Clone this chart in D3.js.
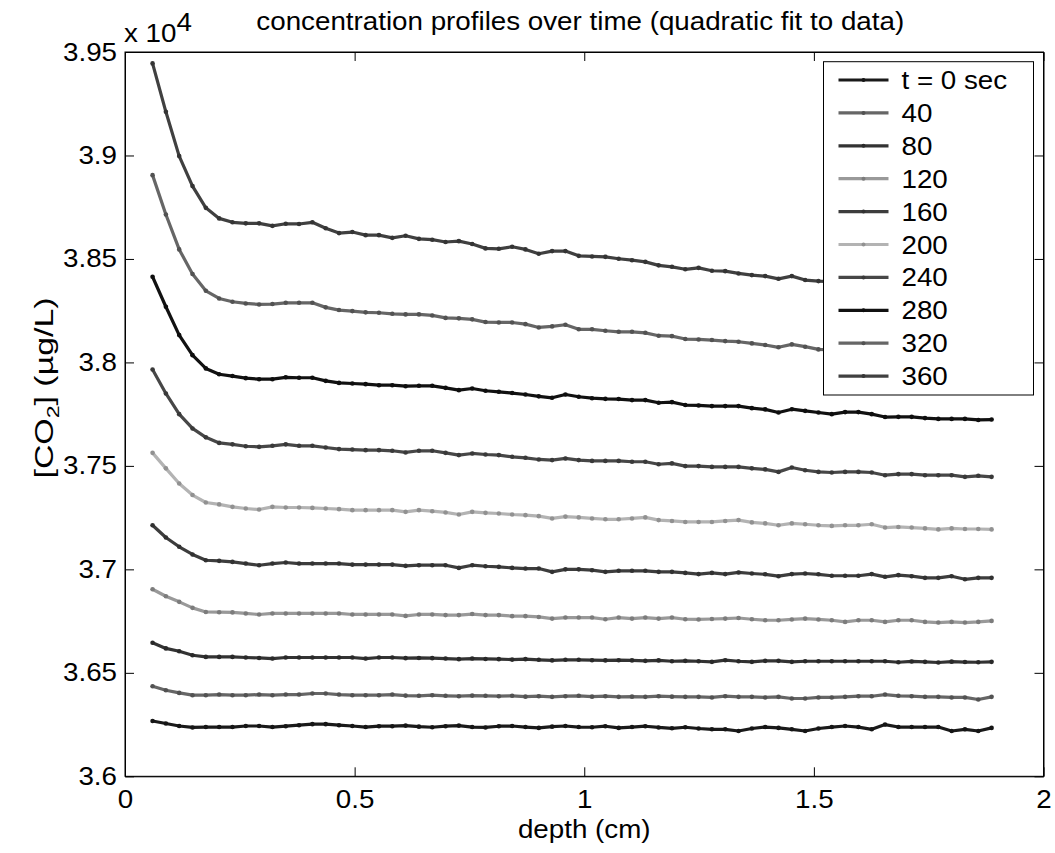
<!DOCTYPE html>
<html>
<head>
<meta charset="utf-8">
<script src="https://cdn.jsdelivr.net/npm/d3@7"></script>
<style>
  body { margin: 0; background: #fff; }
  svg { display: block; font-family: "Liberation Sans", Arial, sans-serif; }
</style>
</head>
<body>
<svg id="chart" width="1055" height="853"></svg>
<script>
// depth (cm) of each sample
const depth = [
  0.060, 0.089, 0.118, 0.147, 0.176, 0.205, 0.234, 0.263, 0.292, 0.321,
  0.350, 0.379, 0.408, 0.437, 0.466, 0.495, 0.524, 0.553, 0.582, 0.611,
  0.640, 0.669, 0.698, 0.727, 0.756, 0.785, 0.814, 0.843, 0.872, 0.901,
  0.930, 0.959, 0.988, 1.017, 1.046, 1.075, 1.104, 1.133, 1.162, 1.191,
  1.220, 1.249, 1.278, 1.307, 1.336, 1.365, 1.394, 1.423, 1.452, 1.481,
  1.510, 1.539, 1.568, 1.597, 1.626, 1.655, 1.684, 1.713, 1.742, 1.771,
  1.800, 1.829, 1.858, 1.887
];

// [CO2] (ug/L) at each depth, one array per time
const t0 = [36267, 36255, 36243, 36236, 36238, 36238, 36238, 36243, 36243, 36238, 36242, 36247, 36252, 36252, 36247, 36243, 36238, 36242, 36242,
  36245, 36240, 36237, 36242, 36245, 36238, 36236, 36242, 36243, 36238, 36234, 36240, 36243, 36238, 36237, 36242, 36234, 36238, 36242, 36236, 36232, 36237,
  36231, 36227, 36227, 36219, 36231, 36238, 36234, 36227, 36219, 36231, 36238, 36243, 36238, 36227, 36250, 36238, 36238, 36238, 36238, 36219, 36227, 36219, 36234];
const t40 = [36435, 36416, 36403, 36392, 36392, 36395, 36392, 36392, 36395, 36392, 36395, 36395, 36400, 36400, 36395, 36392, 36392, 36392, 36395,
  36390, 36389, 36392, 36389, 36387, 36390, 36389, 36387, 36389, 36385, 36387, 36384, 36387, 36389, 36385, 36387, 36384, 36385, 36384, 36387, 36385, 36384,
  36384, 36381, 36387, 36384, 36384, 36381, 36384, 36376, 36376, 36381, 36381, 36384, 36387, 36387, 36395, 36389, 36387, 36384, 36384, 36381, 36381, 36371, 36384];
const t80 = [36645, 36618, 36604, 36585, 36577, 36577, 36577, 36574, 36572, 36569, 36574, 36574, 36574, 36574, 36574, 36574, 36569, 36574, 36574,
  36571, 36572, 36571, 36569, 36566, 36569, 36567, 36566, 36564, 36566, 36563, 36560, 36563, 36563, 36561, 36560, 36561, 36560, 36558, 36560, 36556, 36558,
  36556, 36553, 36561, 36556, 36553, 36558, 36558, 36553, 36556, 36556, 36556, 36556, 36556, 36556, 36556, 36551, 36555, 36553, 36550, 36554, 36552, 36551, 36553];
const t120 = [36904, 36870, 36843, 36814, 36794, 36793, 36792, 36787, 36782, 36787, 36787, 36787, 36787, 36787, 36787, 36782, 36782, 36782, 36782,
  36775, 36782, 36782, 36779, 36779, 36784, 36779, 36779, 36774, 36774, 36770, 36762, 36767, 36767, 36767,
  36759, 36767, 36762, 36767, 36762, 36767, 36759, 36758, 36760, 36762, 36765, 36759, 36754, 36754, 36758, 36762, 36758, 36754, 36746, 36754,
  36754, 36746, 36754, 36754, 36746, 36743, 36746, 36743, 36746, 36751];
const t160 = [37213, 37154, 37109, 37072, 37044, 37041, 37036, 37028, 37020, 37028, 37033, 37028, 37028, 37028, 37028, 37023, 37023, 37023, 37023,
  37017, 37020, 37020, 37020, 37007, 37020, 37015, 37012, 37007, 37004, 37004, 36988, 37000, 37000, 36996,
  36988, 36993, 36993, 36993, 36988, 36988, 36983, 36977, 36983, 36977, 36985, 36980, 36976, 36967, 36977, 36980, 36976, 36969, 36969, 36969,
  36977, 36964, 36972, 36967, 36959, 36959, 36967, 36952, 36959, 36959];
const t200 = [37563, 37488, 37415, 37359, 37323, 37314, 37302, 37294, 37289, 37302, 37299, 37299, 37297, 37294, 37291, 37286, 37286, 37286, 37286,
  37278, 37286, 37281, 37275, 37265, 37278, 37273, 37270, 37265, 37262, 37257, 37246, 37255, 37251, 37246,
  37242, 37242, 37246, 37251, 37238, 37234, 37229, 37229, 37229, 37234, 37238, 37227, 37222, 37213, 37222, 37218, 37213, 37210, 37213, 37213,
  37218, 37202, 37205, 37202, 37198, 37193, 37198, 37195, 37195, 37193];
const t240 = [37966, 37850, 37750, 37681, 37638, 37611, 37604, 37595, 37592, 37597, 37604, 37597, 37597, 37589, 37581, 37579, 37576, 37576, 37573,
  37565, 37573, 37573, 37563, 37552, 37560, 37555, 37552, 37544, 37539, 37531, 37528, 37536, 37528, 37524,
  37524, 37524, 37520, 37520, 37508, 37512, 37499, 37499, 37495, 37495, 37495, 37488, 37483, 37471, 37492, 37479, 37471, 37468, 37471, 37471,
  37468, 37455, 37460, 37460, 37455, 37455, 37455, 37447, 37452, 37447];
const t280 = [38414, 38269, 38132, 38035, 37971, 37943, 37934, 37924, 37919, 37919, 37928, 37926, 37926, 37911, 37901, 37898, 37895, 37890, 37890,
  37885, 37887, 37887, 37877, 37866, 37874, 37863, 37858, 37852, 37845, 37836, 37829, 37845, 37834, 37827,
  37824, 37823, 37818, 37818, 37805, 37808, 37794, 37792, 37789, 37789, 37789, 37779, 37773, 37758, 37774, 37766, 37758, 37750, 37760, 37760,
  37750, 37736, 37737, 37737, 37731, 37727, 37727, 37727, 37722, 37724];
const t320 = [38905, 38715, 38546, 38427, 38346, 38309, 38293, 38285, 38280, 38282, 38288, 38288, 38288, 38266, 38253, 38248, 38242, 38240, 38235,
  38232, 38232, 38227, 38215, 38213, 38208, 38195, 38193, 38193, 38185, 38169, 38174, 38182, 38160, 38160,
  38153, 38148, 38148, 38143, 38129, 38127, 38113, 38111, 38108, 38103, 38100, 38092, 38084, 38073, 38087, 38076, 38063, 38060, 38057, 38055,
  38052, 38049, 38046, 38044, 38041, 38038, 38036, 38033, 38031, 38028];
const t360 = [39445, 39211, 38997, 38852, 38747, 38696, 38677, 38672, 38672, 38660, 38670, 38669, 38677, 38648, 38625, 38630, 38615, 38615, 38602,
  38612, 38597, 38593, 38582, 38586, 38572, 38551, 38549, 38559, 38546, 38525, 38538, 38538, 38515, 38512,
  38510, 38501, 38494, 38486, 38469, 38462, 38450, 38457, 38443, 38441, 38430, 38422, 38417, 38404, 38417, 38398, 38393, 38390, 38386, 38383,
  38380, 38376, 38372, 38370, 38367, 38363, 38360, 38357, 38355, 38352];

const seriesValues = [t0, t40, t80, t120, t160, t200, t240, t280, t320, t360];
const legendLabels = ["t = 0 sec", "40", "80", "120", "160", "200", "240", "280", "320", "360"];
const seriesColors = ["#1a1a1a", "#666666", "#333333", "#999999", "#3d3d3d", "#b3b3b3", "#474747", "#111111", "#666666", "#404040"];

const xTicks = [0, 0.5, 1, 1.5, 2];
const yTicks = [36000, 36500, 37000, 37500, 38000, 38500, 39000, 39500];

const titleText = "concentration profiles over time (quadratic fit to data)";
const xLabelText = "depth (cm)";

// the picture is a bit wider than tall, so stretch text horizontally
const fontPx = 25;
const stretch = 1.11;
function widen(sel) {
  sel.each(function () {
    const len = this.getComputedTextLength();
    d3.select(this).attr("textLength", len * stretch).attr("lengthAdjust", "spacingAndGlyphs");
  });
}

const margin = { top: 52, right: 11.5, bottom: 76.7, left: 125 },
  width = 1055 - margin.left - margin.right,
  height = 853 - margin.top - margin.bottom;

const svg = d3.select("#chart");
const g = svg.append("g").attr("transform", `translate(${margin.left},${margin.top})`);

const x = d3.scaleLinear().domain([0, 2]).range([0, width]);
const y = d3.scaleLinear().domain([36000, 39500]).range([height, 0]);

// box
g.append("rect")
  .attr("width", width).attr("height", height)
  .attr("fill", "#fff").attr("stroke", "#000").attr("stroke-width", 1);

// axes, ticks pointing in
const yFmt = d => String(+(d / 1e4).toFixed(3));
g.append("g")
  .call(d3.axisLeft(y).tickValues(yTicks).tickFormat(yFmt).tickSizeInner(-9).tickSizeOuter(0).tickPadding(8));
g.append("g").attr("transform", `translate(0,${height})`)
  .call(d3.axisBottom(x).tickValues(xTicks).tickFormat(d => String(d)).tickSizeInner(-9).tickSizeOuter(0).tickPadding(14));
g.append("g").attr("transform", `translate(${width},0)`)
  .call(d3.axisRight(y).tickValues(yTicks).tickFormat("").tickSizeInner(-9).tickSizeOuter(0));
g.append("g")
  .call(d3.axisTop(x).tickValues(xTicks).tickFormat("").tickSizeInner(-9).tickSizeOuter(0));

g.selectAll(".domain").attr("stroke", "#000");
g.selectAll(".tick line").attr("stroke", "#000");
g.selectAll(".tick text")
  .attr("fill", "#000")
  .style("font-size", fontPx + "px")
  .style("font-family", "'Liberation Sans', Arial, sans-serif")
  .call(widen);

// lines
const line = d3.line()
  .x((d, i) => x(depth[i]))
  .y(d => y(d));

seriesValues.forEach((vals, k) => {
  const c = seriesColors[k];
  g.append("path")
    .datum(vals)
    .attr("fill", "none")
    .attr("stroke", c)
    .attr("stroke-width", 3.2)
    .attr("stroke-linejoin", "round")
    .attr("d", line);

  g.append("g").selectAll("circle")
    .data(vals)
    .join("circle")
    .attr("cx", (d, i) => x(depth[i]))
    .attr("cy", d => y(d))
    .attr("r", 2.3)
    .attr("fill", d3.color(c).darker(0.6));
});

// legend
const legX = 823.5 - margin.left, legY = 61.7 - margin.top, legW = 210, legH = 333.3, rowH = 32.9;
const leg = g.append("g").attr("transform", `translate(${legX},${legY})`);
leg.append("rect")
  .attr("width", legW).attr("height", legH)
  .attr("fill", "#fff").attr("stroke", "#000").attr("stroke-width", 1);

const rows = leg.selectAll(".row")
  .data(legendLabels)
  .join("g")
  .attr("class", "row")
  .attr("transform", (d, i) => `translate(0,${18.3 + i * rowH})`);

rows.append("line")
  .attr("x1", 15).attr("x2", 65)
  .attr("stroke", (d, i) => seriesColors[i])
  .attr("stroke-width", 3.2);
rows.append("circle")
  .attr("cx", 40).attr("r", 2)
  .attr("fill", (d, i) => d3.color(seriesColors[i]).darker(0.6));
rows.append("text")
  .attr("x", 78).attr("y", 9)
  .style("font-size", fontPx + "px")
  .text(d => d)
  .call(widen);

// titles
svg.append("text")
  .attr("x", margin.left + width / 2 - 4).attr("y", 30)
  .attr("text-anchor", "middle")
  .style("font-size", fontPx + "px")
  .text(titleText)
  .call(widen);

svg.append("text")
  .attr("x", margin.left + width / 2).attr("y", 838)
  .attr("text-anchor", "middle")
  .style("font-size", fontPx + "px")
  .text(xLabelText)
  .call(widen);

// exponent label
const expo = svg.append("text")
  .attr("x", 124).attr("y", 42)
  .style("font-size", fontPx + "px");
expo.append("tspan").text("x 10");
expo.append("tspan").attr("dy", -11.5).text("4");
expo.call(widen);

// y label with subscript
const yl = svg.append("text")
  .attr("transform", "translate(53,388) rotate(-90)")
  .attr("text-anchor", "middle")
  .style("font-size", fontPx + "px");
yl.append("tspan").text("[CO");
yl.append("tspan").attr("dy", 6).style("font-size", "17px").text("2");
yl.append("tspan").attr("dy", -6).text("] (\u00b5g/L)");
yl.attr("textLength", 181).attr("lengthAdjust", "spacingAndGlyphs");
</script>
</body>
</html>
